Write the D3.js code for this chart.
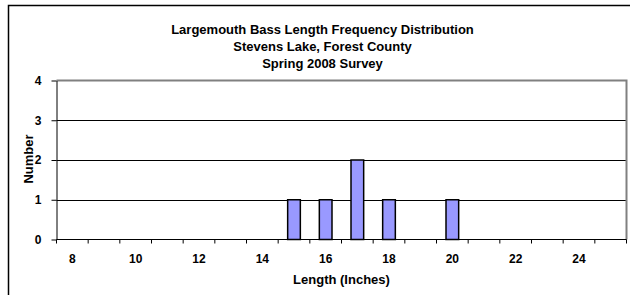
<!DOCTYPE html>
<html>
<head>
<meta charset="utf-8">
<script src="https://cdn.jsdelivr.net/npm/d3@7"></script>
<style>
  body { margin: 0; background: #fff; }
  svg { display: block; font-family: "Liberation Sans", Arial, sans-serif; }
</style>
</head>
<body>
<div id="chart"></div>
<script>
// Chart data
const lengths = [8, 9, 10, 11, 12, 13, 14, 15, 16, 17, 18, 19, 20, 21, 22, 23, 24, 25];
const counts  = [0, 0, 0, 0, 0, 0, 0, 1, 1, 2, 1, 0, 1, 0, 0, 0, 0, 0];
const yTicks  = [0, 1, 2, 3, 4];
const xLabels = [8, 10, 12, 14, 16, 18, 20, 22, 24];
const titleLines = [
  "Largemouth Bass Length Frequency Distribution",
  "Stevens Lake, Forest County",
  "Spring 2008 Survey"
];

const data = lengths.map((d, i) => ({ length: d, count: counts[i] }));

const width = 630, height = 295;
const margin = { top: 80.5, right: 3.5, bottom: 55.5, left: 56.5 };

const svg = d3.select("#chart")
  .append("svg")
  .attr("width", width)
  .attr("height", height);

// outer chart border
svg.append("rect")
  .attr("x", 8.5).attr("y", 5.5)
  .attr("width", width).attr("height", height)
  .attr("fill", "none")
  .attr("stroke", "#000")
  .attr("stroke-width", 1.5);

// title
svg.append("g")
  .selectAll("text")
  .data(titleLines)
  .join("text")
    .attr("x", 322.5)
    .attr("y", (d, i) => 34 + i * 17)
    .attr("text-anchor", "middle")
    .attr("font-size", "13px")
    .attr("font-weight", "bold")
    .text(d => d);

const x0 = margin.left, x1 = width - margin.right;
const y0 = height - margin.bottom, y1 = margin.top;

// category scale for ticks/labels, padded band scale for the bars
const xCat = d3.scaleBand().domain(lengths).range([x0, x1]).padding(0);
const xBar = d3.scaleBand().domain(lengths).range([x0, x1])
  .paddingInner(0.6).paddingOuter(0.3);
const y = d3.scaleLinear().domain([0, 4]).range([y0, y1]);

// gridlines
svg.append("g")
  .selectAll("line")
  .data(yTicks.filter(d => d > 0 && d < 4))
  .join("line")
    .attr("x1", x0).attr("x2", x1)
    .attr("y1", d => Math.round(y(d)) + 0.5)
    .attr("y2", d => Math.round(y(d)) + 0.5)
    .attr("stroke", "#000");

// plot area border (top & right, gray)
svg.append("path")
  .attr("d", `M${x0},${y1}H${x1}V${y0}`)
  .attr("fill", "none")
  .attr("stroke", "#808080")
  .attr("stroke-width", 2);

// bars
svg.append("g")
  .selectAll("rect")
  .data(data.filter(d => d.count > 0))
  .join("rect")
    .attr("x", d => xBar(d.length))
    .attr("y", d => y(d.count))
    .attr("width", xBar.bandwidth())
    .attr("height", d => y(0) - y(d.count))
    .attr("fill", "#9999ff")
    .attr("stroke", "#000")
    .attr("stroke-width", 1.5);

// y axis
svg.append("g")
  .attr("transform", `translate(${x0},0)`)
  .call(d3.axisLeft(y).tickValues(yTicks).tickFormat(d3.format("d"))
    .tickSize(5).tickPadding(10).tickSizeOuter(0))
  .call(g => g.select(".domain").attr("stroke", "#000"))
  .call(g => g.selectAll("text")
    .attr("font-size", "12px").attr("font-weight", "bold")
    .attr("font-family", "Liberation Sans, Arial, sans-serif"));

// x axis: line + boundary ticks
const xAxis = svg.append("g").attr("transform", `translate(0,${y0})`);
xAxis.append("line")
  .attr("x1", x0).attr("x2", x1)
  .attr("stroke", "#000");
xAxis.selectAll(".bound")
  .data(lengths.map(d => xCat(d)).concat([x1]))
  .join("line")
    .attr("class", "bound")
    .attr("x1", d => d).attr("x2", d => d)
    .attr("y1", 0).attr("y2", 4)
    .attr("stroke", "#000");

// x labels at category centres
svg.append("g")
  .attr("transform", `translate(0,${y0})`)
  .call(d3.axisBottom(xCat).tickValues(xLabels).tickSize(0).tickPadding(15))
  .call(g => g.select(".domain").remove())
  .call(g => g.selectAll("text")
    .attr("font-size", "12px").attr("font-weight", "bold")
    .attr("font-family", "Liberation Sans, Arial, sans-serif"));

// axis titles
svg.append("text")
  .attr("transform", "translate(33,159) rotate(-90)")
  .attr("text-anchor", "middle")
  .attr("font-size", "13px")
  .attr("font-weight", "bold")
  .text("Number");

svg.append("text")
  .attr("x", (x0 + x1) / 2)
  .attr("y", 284)
  .attr("text-anchor", "middle")
  .attr("font-size", "13px")
  .attr("font-weight", "bold")
  .text("Length (Inches)");
</script>
</body>
</html>
